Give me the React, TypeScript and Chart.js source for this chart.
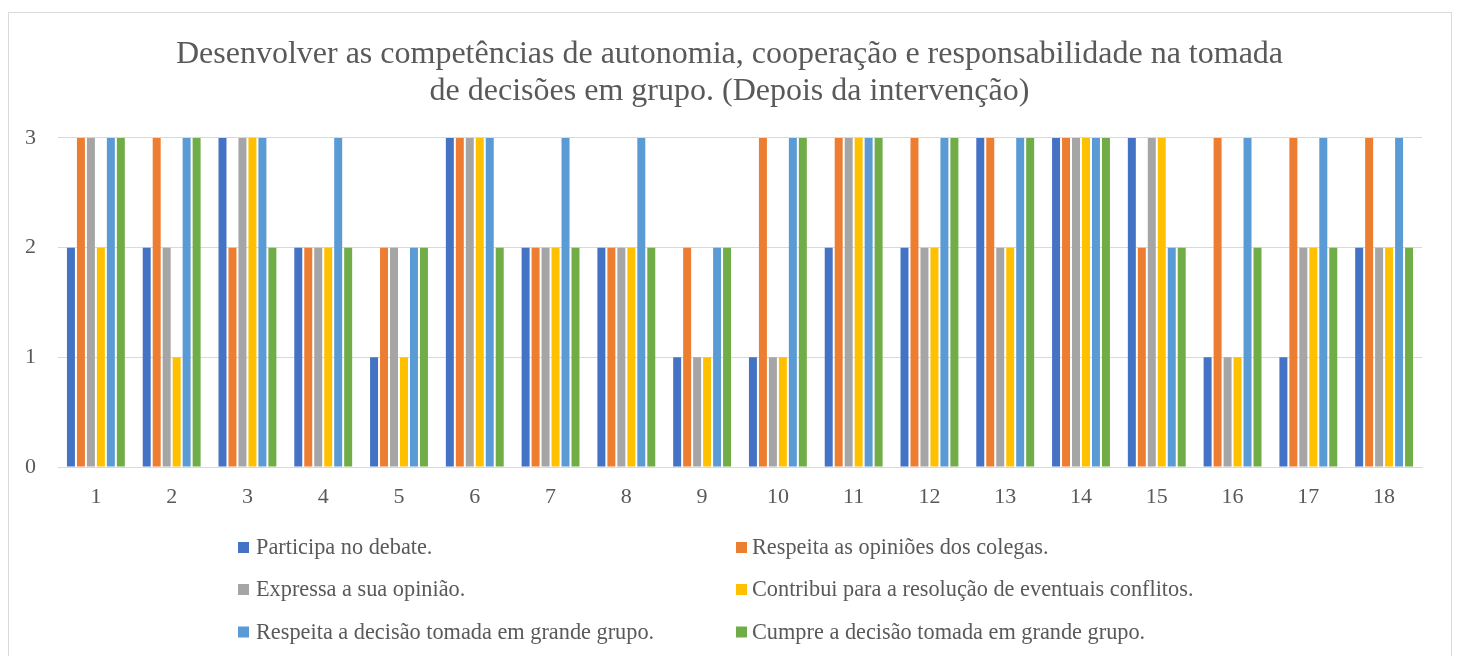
import React, { useEffect, useRef } from "react";
import { Chart, registerables } from "chart.js";

Chart.register(...registerables);

const categories = ["1","2","3","4","5","6","7","8","9","10","11","12","13","14","15","16","17","18"];
const seriesNames = [
  "Participa no debate.",
  "Respeita as opiniões dos colegas.",
  "Expressa a sua opinião.",
  "Contribui para a resolução de eventuais conflitos.",
  "Respeita a decisão tomada em grande grupo.",
  "Cumpre a decisão tomada em grande grupo.",
];
const participa = [2,2,3,2,1,3,2,2,1,1,2,2,3,3,3,1,1,2];
const respeitaOpinioes = [3,3,2,2,2,3,2,2,2,3,3,3,3,3,2,3,3,3];
const expressa = [3,2,3,2,2,3,2,2,1,1,3,2,2,3,3,1,2,2];
const contribui = [2,1,3,2,1,3,2,2,1,1,3,2,2,3,3,1,2,2];
const respeitaDecisao = [3,3,3,3,2,3,3,3,2,3,3,3,3,3,2,3,3,3];
const cumpre = [3,3,2,2,2,2,2,2,2,3,3,3,3,3,2,2,2,2];
const yTicks = [0, 1, 2, 3];
const colors = ["#4472C4", "#ED7D31", "#A5A5A5", "#FFC000", "#5B9BD5", "#70AD47"];
const titleLines = [
  "Desenvolver as competências de autonomia, cooperação e responsabilidade na tomada",
  "de decisões em grupo. (Depois da intervenção)",
];

const FONT = "'Liberation Serif', 'Times New Roman', serif";
const TEXT = "#595959";

const framePlugin = {
  id: "frame",
  beforeDraw(chart: any) {
    const ctx = chart.ctx;
    ctx.save();
    ctx.fillStyle = "#ffffff";
    ctx.fillRect(0, 0, chart.width, chart.height);
    ctx.strokeStyle = "#d9d9d9";
    ctx.lineWidth = 1;
    ctx.strokeRect(8.5, 12.5, 1443, 660);
    ctx.restore();
  },
};

const gridLegendPlugin = {
  id: "gridLegend",
  afterDraw(chart: any, _args: any, opts: any) {
    const ctx = chart.ctx;
    ctx.save();
    ctx.font = `${opts.fontSize}px ${FONT}`;
    ctx.textBaseline = "middle";
    ctx.textAlign = "left";
    chart.data.datasets.forEach((ds: any, i: number) => {
      const col = i % 2;
      const row = Math.floor(i / 2);
      const x = opts.colX[col];
      const y = opts.rowY[row];
      ctx.fillStyle = ds.backgroundColor;
      ctx.fillRect(x, y - 5.5, 11, 11);
      ctx.fillStyle = TEXT;
      ctx.fillText(ds.label, x + opts.textGap[col], y + 1);
    });
    ctx.restore();
  },
};

export default function App() {
  const ref = useRef<HTMLCanvasElement>(null);
  useEffect(() => {
    if (!ref.current) return;
    const values = [participa, respeitaOpinioes, expressa, contribui, respeitaDecisao, cumpre];
    const chart = new Chart(ref.current, {
      type: "bar",
      data: {
        labels: categories,
        datasets: values.map((v, i) => ({
          label: seriesNames[i],
          data: v,
          backgroundColor: colors[i],
          borderWidth: 0,
          categoryPercentage: 0.79,
          barPercentage: 0.8,
        })),
      },
      plugins: [framePlugin, gridLegendPlugin],
      options: {
        responsive: false,
        animation: false,
        layout: { padding: { left: 8, right: 8, top: 0, bottom: 0 } },
        plugins: {
          legend: { display: false },
          tooltip: { enabled: false },
          title: {
            display: true,
            text: titleLines,
            color: TEXT,
            font: { family: FONT, size: 32, weight: "normal", lineHeight: 1.156 },
            padding: { top: 36, bottom: 28 },
          },
          gridLegend: {
            fontSize: 22.3,
            colX: [238, 736],
            rowY: [547.5, 589.5, 632],
            textGap: [18, 16],
          },
        } as any,
        scales: {
          x: {
            grid: { display: false, drawTicks: false },
            border: { display: true, color: "#d9d9d9", width: 1 },
            ticks: { color: TEXT, font: { family: FONT, size: 22 }, padding: 17 },
            afterFit: (scale: any) => { scale.height = 189; },
          },
          y: {
            min: 0,
            max: 3,
            afterBuildTicks: (scale: any) => { scale.ticks = yTicks.map((v) => ({ value: v })); },
            grid: { color: "#d9d9d9", drawTicks: false },
            border: { display: false },
            ticks: { color: TEXT, font: { family: FONT, size: 22 }, padding: 22, stepSize: 1 },
            afterFit: (scale: any) => { scale.width = 50; },
          },
          yRight: {
            type: "linear",
            position: "right",
            min: 0,
            max: 3,
            grid: { display: false, drawTicks: false },
            border: { display: false },
            ticks: { display: false },
            afterFit: (scale: any) => { scale.width = 29; },
          },
        },
      },
    });
    return () => chart.destroy();
  }, []);
  return (
    <div style={{ position: "fixed", left: 0, top: 0, width: 1459, height: 656, background: "#fff" }}>
      <canvas ref={ref} width={1459} height={656} />
    </div>
  );
}
